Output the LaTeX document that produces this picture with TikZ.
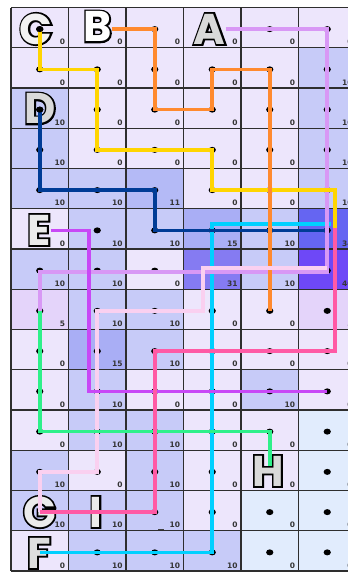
\documentclass[tikz,border=0pt]{standalone}
\usepackage{fontspec}
\usetikzlibrary{calc}
\newfontfamily\numfont{DejaVu Sans}
\newfontfamily\bubblefont{Poppins}
\newfontfamily\bubbleheavy{Poppins}[FakeBold=8,BoldFeatures={FakeBold=8}]
\definecolor{cv0}{HTML}{EDE6FC}
\definecolor{cv5}{HTML}{E4D4FA}
\definecolor{cv10}{HTML}{C7CBF8}
\definecolor{cv11}{HTML}{B4BAF6}
\definecolor{cv15}{HTML}{A9AEF5}
\definecolor{cv31}{HTML}{857BF2}
\definecolor{cv34}{HTML}{6565F2}
\definecolor{cv40}{HTML}{6E48F7}
\definecolor{cvL}{HTML}{E1ECFD}
\definecolor{numgray}{HTML}{353535}
\definecolor{gridc}{HTML}{2E2E2E}
\definecolor{lyellow}{HTML}{FFD500}
\definecolor{lorange}{HTML}{FF8A2E}
\definecolor{lviolet}{HTML}{D898F5}
\definecolor{lnavy}{HTML}{003C96}
\definecolor{lmagenta}{HTML}{C848F6}
\definecolor{lgreen}{HTML}{2EF08A}
\definecolor{lpale}{HTML}{FAD0F0}
\definecolor{lpink}{HTML}{FF5AA5}
\definecolor{lcyan}{HTML}{00D0FF}
\newcommand\cellnum[1]{\edef\tmpa{#1}\def\tmpb{L}\ifx\tmpa\tmpb 0\else\tmpa\fi}
\newcommand\bubble[4]{%
  \node[bubout] at #2 {#3};
  \node[bubtxt,text=#4] (#1) at #2 {#3};
}
\begin{document}
\begin{tikzpicture}[x=1pt,y=-1pt,
  numlab/.style={inner sep=0pt, anchor=base east, font=\numfont\bfseries\fontsize{7.5}{8}\selectfont, text=numgray},
  gridline/.style={draw=gridc, line width=1.1pt},
  bubtxt/.style={inner sep=0pt, font=\bubblefont\bfseries\fontsize{43}{43}\selectfont},
  bubout/.style={inner sep=0pt, text=black, font=\bubbleheavy\bfseries\fontsize{43}{43}\selectfont},
  route/.style={line width=3.6pt},
  dotmark/.style={fill=black},
]
\useasboundingbox (0,0) rectangle (348,574);
\clip (0,0) rectangle (348,574);
\fill[white] (0,0) rectangle (348,574);
\def\X{11}\def\W{57.5}\def\Y{7.5}\def\H{40.25}
% cells
\foreach \r/\vals in {0/{0,0,0,0,0,0},1/{0,0,0,0,0,10},2/{10,0,0,0,0,10},3/{10,0,0,0,0,10},
  4/{10,10,11,0,0,10},5/{0,10,10,15,10,34},6/{10,10,0,31,10,40},7/{5,10,10,0,0,5},
  8/{0,15,10,0,0,0},9/{0,10,0,0,10,0},10/{0,10,10,0,0,L},11/{10,0,10,0,0,L},
  12/{10,10,10,0,L,L},13/{0,10,10,10,L,L}} {
  \foreach \v [count=\c from 0] in \vals {
    \edef\cname{cv\v}
    \fill[fill=\cname] ({\X+\W*\c},{\Y+\H*\r}) rectangle ++(\W,\H);
    \node[numlab] (n\c-\r) at ({\X+\W*(\c+1)-3.2},{\Y+\H*(\r+1)-3}) {\cellnum{\v}};
  }
}
% grid
\foreach \c in {0,...,6}
  \draw[gridline] ({\X+\W*\c},\Y) -- ({\X+\W*\c},{\Y+14*\H});
\foreach \r in {0,...,14}
  \draw[gridline] (\X,{\Y+\H*\r}) -- ({\X+6*\W},{\Y+\H*\r});
% small mark
\draw[line width=1.4pt, black!75] (158,529.3) -- (164,529.3);
% dot coordinates
\foreach \c in {0,...,5}
  \foreach \r in {0,...,13}
    \coordinate (p\c-\r) at ({\X+\W*(\c+0.5)},{\Y+\H*(\r+0.5)+1.5});
% dots
\foreach \r/\cs in {0/{0,2,4,5},1/{0,1,2,3,4,5},2/{0,1,2,3,4,5},3/{0,1,2,3,4,5},4/{0,1,2,3,4,5},
  5/{1,2,3,4,5},6/{0,1,2,3,4,5},7/{0,1,2,3,4,5},8/{0,1,2,3,4,5},9/{0,1,2,3,4,5},
  10/{0,1,2,3,4,5},11/{0,1,2,3,5},12/{2,3,4,5},13/{1,2,3,4,5}}
  \foreach \c in \cs
    \fill[dotmark] (p\c-\r) ellipse [x radius=3.6pt, y radius=3pt];
% letters
\bubble{C}{(36,29)}{C}{white!95!black}
\bubble{B}{(97.5,26.5)}{B}{white}
\bubble{A}{(209.5,29)}{A}{white!85!black}
\bubble{D}{(40,108.5)}{D}{white!85!black}
\bubble{E}{(39,230)}{E}{white!92!black}
\bubble{G}{(39.5,512)}{G}{white!92!black}
\bubble{I}{(96,512)}{I}{white!92!black}
\bubble{F}{(39,553)}{F}{white!87!black}
% junction
\coordinate (j1) at ($(p5-5)+(7.5,-2)$);
% routes
\draw[route,lcyan] (p0-13) -- (p3-13) -- ($(p3-5)+(0,-6.5)$) -- ($(p5-5)+(4,-6.5)$);
\draw[route,lnavy] (p0-2) -- (p0-4) -- (p2-4) -- (p2-5) -- ($(p5-5)+(-2,0)$);
\draw[route,lviolet] (A.east |- p3-0) -- (p5-0) -- ($(p5-6)+(0,1.5)$) -- ($(p0-6)+(0,1.5)$) -- (p0-7);
\draw[route,lyellow] (p0-0) -- (p0-1) -- (p1-1) -- (p1-3) -- (p3-3) -- (p3-4) -- ($(p5-4)+(7.5,0)$) -- (j1);
\draw[route,lorange] (B.east |- p1-0) -- (p2-0) -- (p2-2) -- (p3-2) -- (p3-1) -- (p4-1) -- (p4-7);
\draw[route,lpale] (p0-12) -- (p0-11) -- (p1-11) -- (p1-7) -- ($(p3-7)+(-9,0)$) -- ($(p3-6)+(-9,-2.5)$) -- ($(p5-6)+(0,-2.5)$);
\draw[route,lgreen] (p0-7) -- (p0-10) -- (p4-10) -- ($(p4-11)+(0,-4)$);
\draw[route,lmagenta] (E.east |- p0-5) -- ($(p1-5)+(-8,0)$) -- ($(p1-9)+(-8,0)$) -- (p5-9);
\draw[route,lpink] (p0-12) -- (p2-12) -- (p2-8) -- ($(p5-8)+(7.5,0)$) -- (j1);
% top dots
\fill[dotmark] (p0-0) ellipse [x radius=3.6pt, y radius=3pt];
\fill[dotmark] (p0-2) ellipse [x radius=3.6pt, y radius=3pt];
\bubble{H}{(268,471)}{H}{white!85!black}
\end{tikzpicture}
\end{document}
